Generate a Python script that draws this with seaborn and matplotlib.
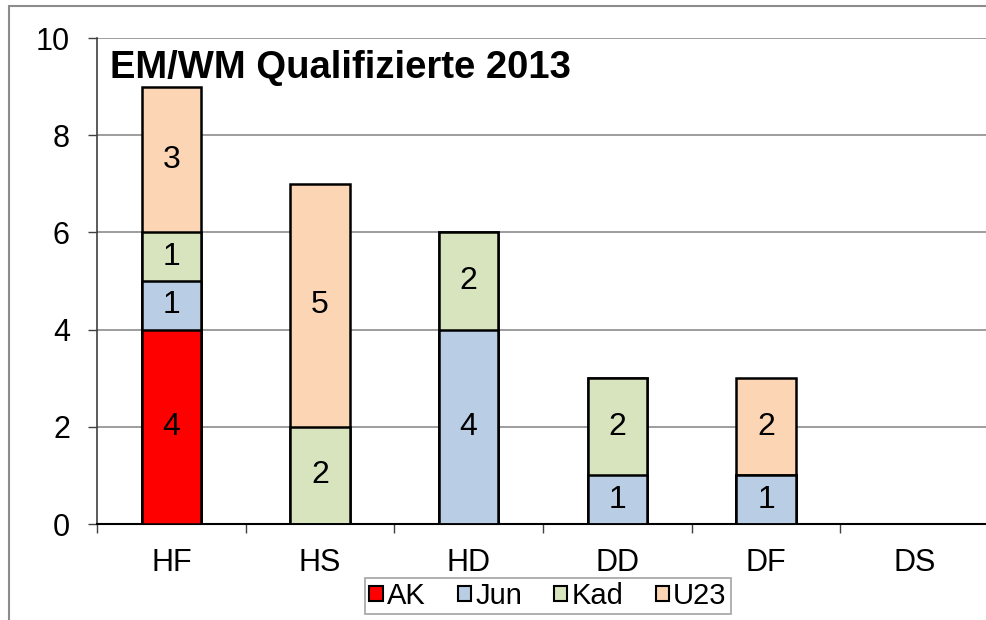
import matplotlib
matplotlib.use("Agg")
import numpy as np
import pandas as pd
import matplotlib.pyplot as plt
import seaborn as sns
from matplotlib.patches import Patch, Rectangle

# ---------------------------
# Data
# ---------------------------
categories = ["HF", "HS", "HD", "DD", "DF", "DS"]
series_names = ["AK", "Jun", "Kad", "U23"]
ak = [4, 0, 0, 0, 0, 0]
jun = [1, 0, 4, 1, 1, 0]
kad = [1, 2, 2, 2, 0, 0]
u23 = [3, 5, 0, 0, 2, 0]
colors = ["#FF0000", "#B9CDE5", "#D7E4BD", "#FCD5B5"]
title = "EM/WM Qualifizierte 2013"

sns.set_theme(style="white")
plt.rcParams["font.family"] = ["Liberation Sans", "DejaVu Sans"]
plt.rcParams["text.color"] = "black"

df = pd.DataFrame({"cat": categories, "AK": ak, "Jun": jun, "Kad": kad, "U23": u23})
cum = df[series_names].cumsum(axis=1)

fig = plt.figure(figsize=(9.87, 6.2), dpi=100)
ax = fig.add_axes([97 / 987, 1 - 524 / 620, 892 / 987, (524 - 38) / 620])

# stacked bars: draw cumulative totals from top down
for name, color in reversed(list(zip(series_names, colors))):
    sns.barplot(data=cum.assign(cat=categories), x="cat", y=name, color=color,
                width=0.4, edgecolor="black", linewidth=1.8, saturation=1,
                order=categories, ax=ax, zorder=3)

# segment labels
for i, cat in enumerate(categories):
    base = 0
    for name in series_names:
        v = df.loc[i, name]
        if v > 0:
            ax.text(i, base + v / 2, str(v), ha="center", va="center",
                    fontsize=23, color="black", zorder=5)
        base += v

ax.set_ylim(0, 10)
ax.set_xlim(-0.5, len(categories) - 0.5)
ax.set_yticks(range(0, 11, 2))
ax.yaxis.grid(True, color="#8C8C8C", linewidth=1.2, zorder=0)
ax.set_axisbelow(True)
ax.set_xlabel("")
ax.set_ylabel("")
for s in ["top", "right"]:
    ax.spines[s].set_visible(False)
ax.spines["left"].set_color("#404040")
ax.spines["left"].set_linewidth(1.2)
ax.spines["bottom"].set_color("black")
ax.spines["bottom"].set_linewidth(1.5)
ax.tick_params(axis="y", left=True, length=6.5, width=1, color="#404040",
               pad=13, labelsize=22)
ax.tick_params(axis="x", bottom=False, length=0, pad=17, labelsize=22)
ax.set_xticks(np.arange(-0.5, len(categories) - 0.4, 1), minor=True)
ax.tick_params(axis="x", which="minor", bottom=True, length=6.5, width=1,
               color="#404040")
for lab in ax.get_xticklabels() + ax.get_yticklabels():
    lab.set_color("black")

fig.text(110 / 987, 1 - 68 / 620, title, fontsize=27.5, fontweight="bold",
         color="black", ha="left", va="center", zorder=6)

# legend
handles = [Patch(facecolor=c, edgecolor="black", linewidth=1.5) for c in colors]
leg = fig.legend(handles, series_names, loc="center",
                 bbox_to_anchor=(548 / 987, 1 - 596 / 620), ncol=4,
                 fontsize=21, frameon=True, fancybox=False,
                 handlelength=0.45, handleheight=0.45, handletextpad=0.15,
                 columnspacing=1.1, borderpad=0.15, borderaxespad=0)
leg.get_frame().set_edgecolor("#8C8C8C")
leg.get_frame().set_linewidth(1.2)
for t in leg.get_texts():
    t.set_color("black")

# outer chart frame
fig.patches.append(Rectangle((9 / 987, -0.1), 1.2, 1 - 6 / 620 + 0.1,
                             transform=fig.transFigure, fill=False,
                             edgecolor="#8C8C8C", linewidth=1.5))

fig.savefig("out.png", dpi=100)
